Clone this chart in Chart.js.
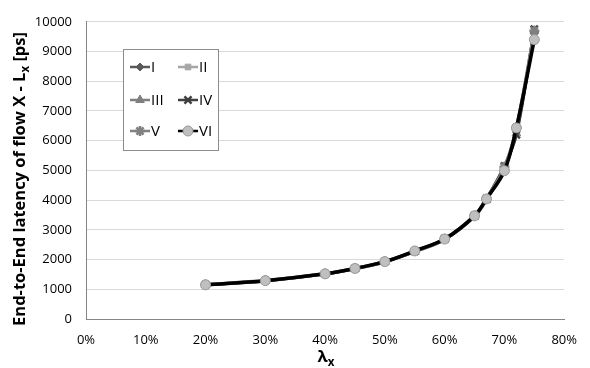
<!DOCTYPE html>
<html>
<head>
<meta charset="utf-8">
<script src="https://cdn.jsdelivr.net/npm/chart.js@4/dist/chart.umd.min.js"></script>
<style>
  html, body { margin: 0; padding: 0; background: #fff; }
</style>
</head>
<body>
<canvas id="latencyChart" width="590" height="368"></canvas>
<script>
// lambda_x values (percent)
const lambdaX = [20, 30, 40, 45, 50, 55, 60, 65, 67, 70, 72, 75];

// latency per configuration [ps]
const seriesI   = [1140, 1280, 1510, 1690, 1920, 2270, 2680, 3460, 4020, 5050, 6350, 9600];
const seriesII  = [1150, 1290, 1520, 1700, 1930, 2280, 2690, 3470, 4030, 5080, 6400, 9650];
const seriesIII = [1140, 1280, 1510, 1690, 1920, 2260, 2670, 3440, 4000, 5100, 6250, 9700];
const seriesIV  = [1150, 1290, 1520, 1700, 1930, 2280, 2700, 3480, 4050, 5150, 6200, 9750];
const seriesV   = [1160, 1300, 1530, 1710, 1940, 2290, 2700, 3480, 4040, 5120, 6450, 9700];
const seriesVI  = [1150, 1290, 1520, 1700, 1930, 2290, 2690, 3470, 4040, 4990, 6430, 9400];

const seriesNames = ['I', 'II', 'III', 'IV', 'V', 'VI'];
const seriesValues = [seriesI, seriesII, seriesIII, seriesIV, seriesV, seriesVI];

const yTicks = [0, 1000, 2000, 3000, 4000, 5000, 6000, 7000, 8000, 9000, 10000];
const xTicks = [0, 10, 20, 30, 40, 50, 60, 70, 80];

const FONT = '"Open Sans", "Liberation Sans", sans-serif';

// marker / line style per series
const styles = [
  { color: '#595959', point: 'rectRot',  radius: 4, fill: '#595959', lw: 3 },
  { color: '#a6a6a6', point: 'rect',     radius: 4, fill: '#a6a6a6', lw: 3 },
  { color: '#7f7f7f', point: 'triangle', radius: 5, fill: '#7f7f7f', lw: 3 },
  { color: '#3f3f3f', point: 'crossRot', radius: 5, fill: '#3f3f3f', lw: 3 },
  { color: '#808080', point: 'star',     radius: 5, fill: '#808080', lw: 3 },
  { color: '#000000', point: 'circle',   radius: 5, fill: '#bfbfbf', lw: 3.5 }
];

function toPoints(values) {
  return lambdaX.map((x, i) => ({ x: x, y: values[i] }));
}

const datasets = seriesNames.map((name, i) => {
  const s = styles[i];
  return {
    label: name,
    data: toPoints(seriesValues[i]),
    borderColor: s.color,
    borderWidth: s.lw,
    pointStyle: s.point,
    pointRadius: s.radius,
    pointBackgroundColor: s.fill,
    pointBorderColor: i === 5 ? '#9a9a9a' : s.color,
    pointBorderWidth: (s.point === 'crossRot' || s.point === 'star') ? 2.5 : 1,
    tension: 0.35,
    fill: false,
    order: i === 5 ? -1 : 6 - i // VI drawn on top
  };
});

// draws text with a small lowered "x" subscript, centred at x
function drawWithSub(ctx, parts, x, y, size) {
  let total = 0;
  parts.forEach(p => {
    ctx.font = 'bold ' + (p[1] ? size * 0.7 : size) + 'px ' + FONT;
    total += ctx.measureText(p[0]).width;
  });
  let cx = x - total / 2;
  parts.forEach(p => {
    ctx.font = 'bold ' + (p[1] ? size * 0.7 : size) + 'px ' + FONT;
    ctx.fillText(p[0], cx, y + (p[1] ? size * 0.25 : 0));
    cx += ctx.measureText(p[0]).width;
  });
}

const axisTitles = {
  id: 'axisTitles',
  afterDraw(chart) {
    const ctx = chart.ctx;
    ctx.save();
    ctx.fillStyle = '#000';
    ctx.textAlign = 'left';
    ctx.textBaseline = 'alphabetic';
    // x title
    drawWithSub(ctx, [['\u03BB', false], ['x', true]], 326, 362, 16.5);
    // y title
    ctx.translate(25, 179);
    ctx.rotate(-Math.PI / 2);
    drawWithSub(ctx, [['End-to-End latency of flow X - L', false], ['x', true], [' [ps]', false]], 0, 0, 16.5);
    ctx.restore();
  }
};

const boxLegend = {
  id: 'boxLegend',
  afterDraw(chart) {
    const ctx = chart.ctx;
    const bx = 123, by = 49, bw = 95, bh = 101;
    ctx.save();
    ctx.fillStyle = '#ffffff';
    ctx.fillRect(bx, by, bw, bh);
    ctx.strokeStyle = '#8c8c8c';
    ctx.lineWidth = 1;
    ctx.strokeRect(bx + 0.5, by + 0.5, bw, bh);
    const rows = [67, 100, 131];
    const cols = [130, 178];
    chart.data.datasets.forEach((ds, i) => {
      const s = styles[i];
      const x0 = cols[i % 2];
      const y0 = rows[Math.floor(i / 2)];
      ctx.strokeStyle = s.color;
      ctx.lineWidth = 2.5;
      ctx.beginPath();
      ctx.moveTo(x0, y0);
      ctx.lineTo(x0 + 20, y0);
      ctx.stroke();
      ctx.fillStyle = s.fill;
      ctx.strokeStyle = ds.pointBorderColor;
      ctx.lineWidth = ds.pointBorderWidth;
      Chart.helpers.drawPoint(ctx, {
        pointStyle: s.point,
        radius: s.radius,
        rotation: 0,
        borderWidth: ds.pointBorderWidth
      }, x0 + 10, y0);
      ctx.fillStyle = '#000';
      ctx.font = '15px ' + FONT;
      ctx.textBaseline = 'middle';
      ctx.textAlign = 'left';
      ctx.fillText(ds.label, x0 + 21, y0 + 1);
    });
    ctx.restore();
  }
};

new Chart(document.getElementById('latencyChart'), {
  type: 'line',
  data: { datasets: datasets },
  plugins: [axisTitles, boxLegend],
  options: {
    responsive: false,
    animation: false,
    devicePixelRatio: 1,
    layout: { padding: { top: 14, right: 15, left: 0, bottom: 0 } },
    plugins: {
      legend: { display: false },
      tooltip: { enabled: false }
    },
    scales: {
      x: {
        type: 'linear',
        min: 0,
        max: 80,
        afterBuildTicks: axis => { axis.ticks = xTicks.map(v => ({ value: v })); },
        ticks: {
          callback: v => v + '%',
          color: '#000',
          padding: 13,
          maxRotation: 0,
          font: { family: FONT, size: 13 }
        },
        grid: { display: false, drawTicks: false },
        border: { display: true, color: '#868686', width: 1 },
        afterFit: axis => { axis.height = 49; }
      },
      y: {
        min: 0,
        max: 10000,
        afterBuildTicks: axis => { axis.ticks = yTicks.map(v => ({ value: v })); },
        ticks: {
          callback: v => String(v),
          color: '#000',
          padding: 14,
          font: { family: FONT, size: 13 }
        },
        grid: { color: '#d9d9d9', lineWidth: 1, drawTicks: false },
        border: { display: true, color: '#868686', width: 1 },
        afterFit: axis => { axis.width = 86; }
      }
    }
  }
});
</script>
</body>
</html>
